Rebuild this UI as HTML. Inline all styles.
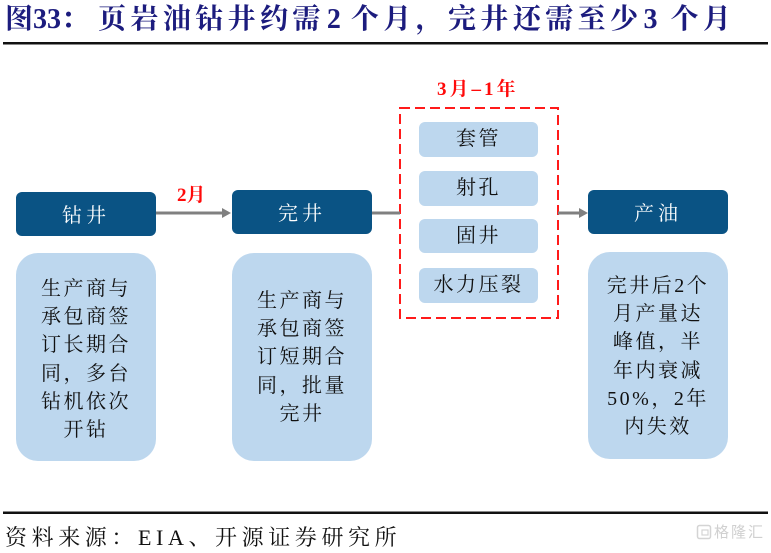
<!DOCTYPE html>
<html><head><meta charset="utf-8">
<style>
html,body{margin:0;padding:0;background:#fff;}
#c{position:relative;width:771px;height:553px;overflow:hidden;background:#fff;}
.abs{position:absolute;white-space:nowrap;}
.title{left:5px;top:5px;font-family:"Liberation Serif","Noto Serif CJK SC",serif;font-weight:bold;font-size:28px;line-height:30px;color:#1c1c7e;}
.title .s{letter-spacing:4.4px;}
.body{font-family:"Liberation Serif","Noto Serif CJK SC",serif;font-size:20px;line-height:28.2px;color:#111;letter-spacing:2.5px;text-align:center;}
.hd{font-family:"Liberation Serif","Noto Serif CJK SC",serif;font-size:20px;line-height:28px;color:#fff;letter-spacing:4px;text-align:center;}
.red{font-family:"Liberation Serif","Noto Serif CJK SC",serif;font-weight:bold;font-size:19px;line-height:20px;color:#ff0a0a;}
.foot{left:5px;top:524px;font-family:"Liberation Serif","Noto Serif CJK SC",serif;font-size:22px;line-height:28px;color:#111;letter-spacing:4.6px;}
</style></head>
<body><div id="c">
<svg width="771" height="553" style="position:absolute;left:0;top:0">
  <rect x="3" y="42" width="765" height="2.5" fill="#111"/>
  <rect x="3" y="511.5" width="765" height="2.5" fill="#111"/>
  <rect x="16" y="192" width="140" height="44" rx="6" fill="#0a5384"/>
  <rect x="232" y="190" width="140" height="44" rx="6" fill="#0a5384"/>
  <rect x="588" y="190" width="140" height="44" rx="6" fill="#0a5384"/>
  <rect x="16" y="253" width="140" height="208" rx="22" fill="#bdd7ee"/>
  <rect x="232" y="253" width="140" height="208" rx="22" fill="#bdd7ee"/>
  <rect x="588" y="252" width="140" height="207" rx="22" fill="#bdd7ee"/>
  <rect x="419" y="122" width="119" height="35" rx="6" fill="#bdd7ee"/>
  <rect x="419" y="171" width="119" height="35" rx="6" fill="#bdd7ee"/>
  <rect x="419" y="219" width="119" height="34" rx="6" fill="#bdd7ee"/>
  <rect x="419" y="268" width="119" height="35" rx="6" fill="#bdd7ee"/>
  <rect x="400" y="108" width="158" height="210" fill="none" stroke="#ff1a1a" stroke-width="2" stroke-dasharray="10 5"/>
  <line x1="156" y1="213" x2="224" y2="213" stroke="#808080" stroke-width="3"/>
  <polygon points="222,208 231,213 222,218" fill="#808080"/>
  <line x1="372" y1="213" x2="400" y2="213" stroke="#808080" stroke-width="3"/>
  <line x1="558" y1="213" x2="581" y2="213" stroke="#808080" stroke-width="3"/>
  <polygon points="579,208 588,213 579,218" fill="#808080"/>
  <rect x="697.5" y="525.5" width="13" height="13" rx="2" fill="none" stroke="#d4d4d4" stroke-width="1.5"/>
  <rect x="702" y="530" width="6" height="5" fill="none" stroke="#d4d4d4" stroke-width="1.2"/>
</svg>

<div class="abs title">图33：<span class="s" style="margin-left:9px">页岩油钻井约需</span><span style="margin-left:2px">2</span><span class="s" style="margin-left:10px">个月，完井还需至少</span><span style="margin-left:1px">3</span><span class="s" style="margin-left:13px">个月</span></div>

<div class="abs red" style="left:177px;top:186px;">2月</div>
<div class="abs red" style="left:437px;top:80px;letter-spacing:3px;">3月–1年</div>

<div class="abs hd" style="left:16px;width:140px;top:202px;">钻井</div>
<div class="abs hd" style="left:232px;width:140px;top:200px;">完井</div>
<div class="abs hd" style="left:588px;width:140px;top:200px;">产油</div>

<div class="abs body" style="left:419px;width:119px;top:125px;">套管</div>
<div class="abs body" style="left:419px;width:119px;top:174px;">射孔</div>
<div class="abs body" style="left:419px;width:119px;top:222px;">固井</div>
<div class="abs body" style="left:419px;width:119px;top:271px;">水力压裂</div>

<div class="abs body" style="left:16px;width:140px;top:275px;">生产商与<br>承包商签<br>订长期合<br>同，多台<br>钻机依次<br>开钻</div>
<div class="abs body" style="left:232px;width:140px;top:287px;">生产商与<br>承包商签<br>订短期合<br>同，批量<br>完井</div>
<div class="abs body" style="left:588px;width:140px;top:272px;">完井后2个<br>月产量达<br>峰值，半<br>年内衰减<br>50%，2年<br>内失效</div>

<div class="abs foot">资料来源：EIA、开源证券研究所</div>
<div class="abs" style="left:714px;top:522px;font-family:'Noto Sans CJK SC',sans-serif;font-size:15px;line-height:20px;color:#d0d0d0;letter-spacing:2px;">格隆汇</div>
</div></body></html>
